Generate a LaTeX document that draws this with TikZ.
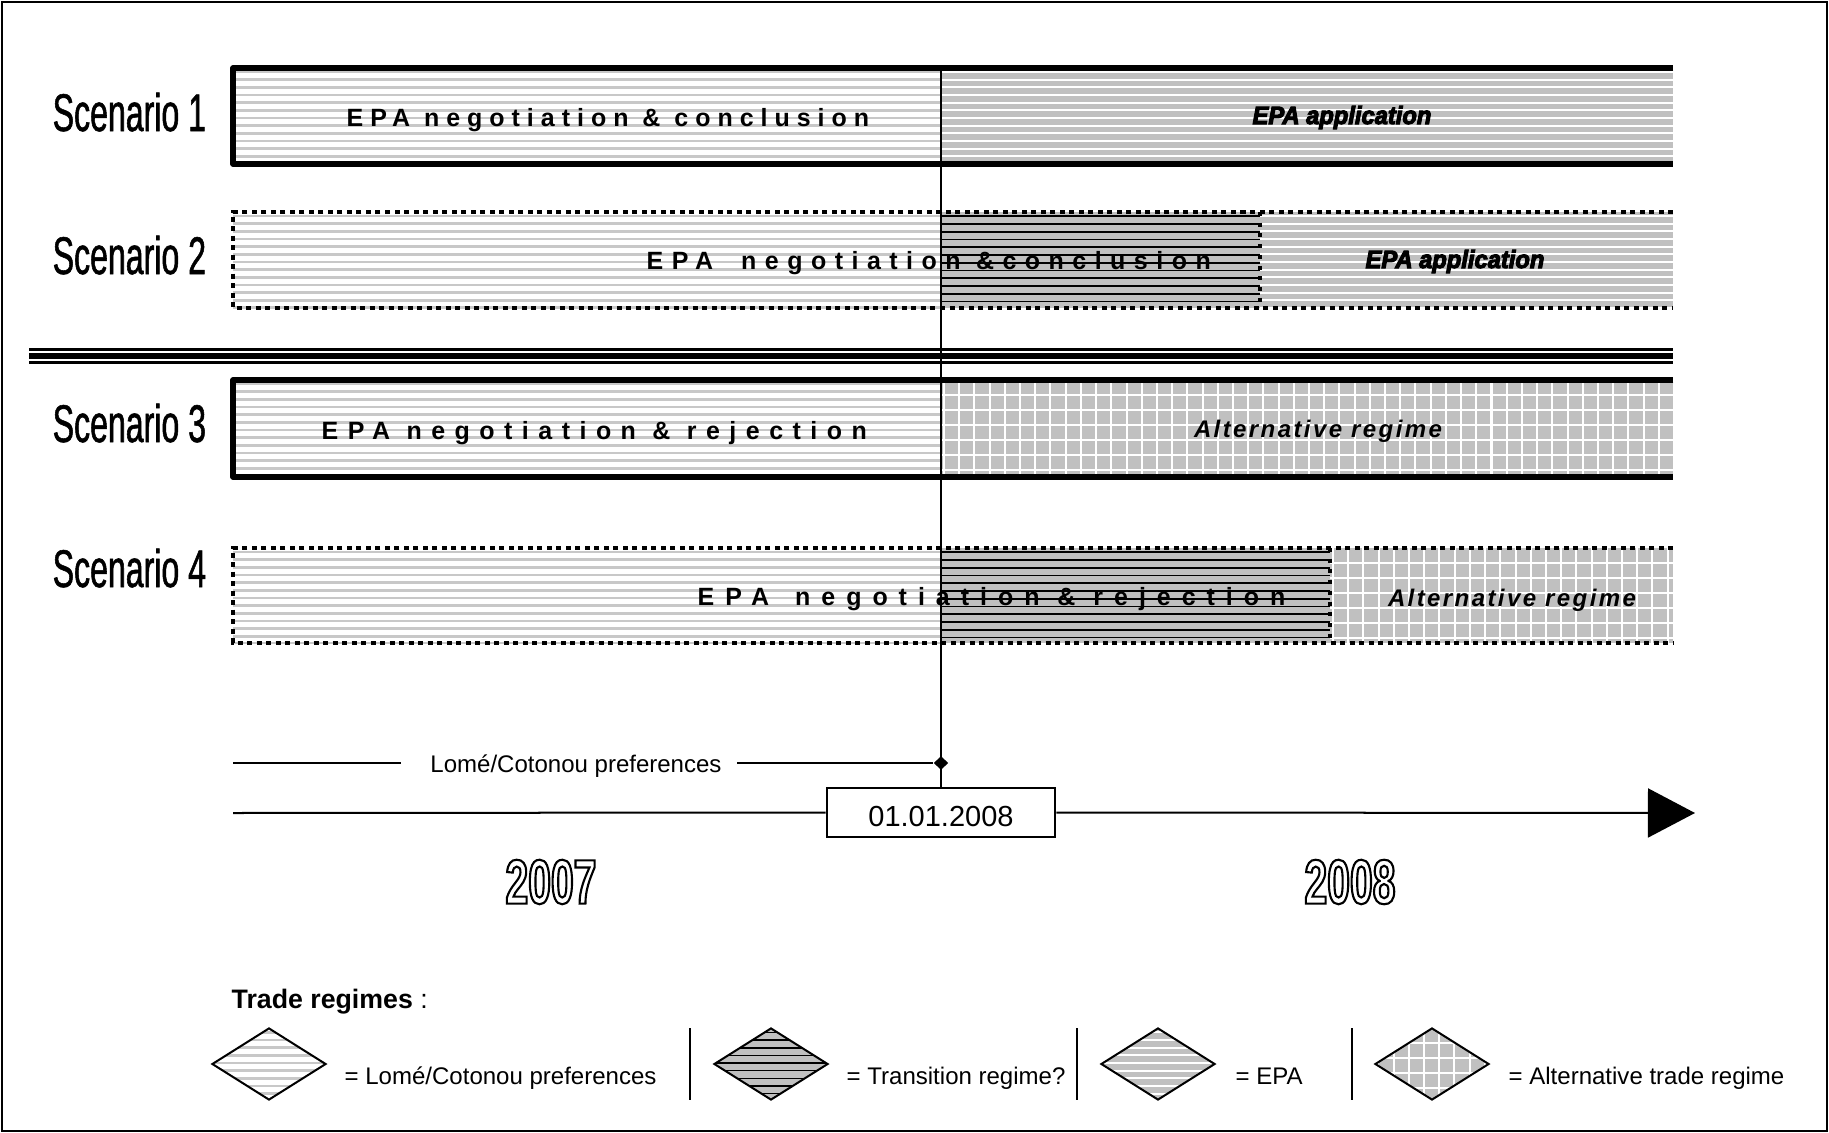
\documentclass[tikz,border=0pt]{standalone}
\usepackage{fontspec}
\setmainfont{Liberation Sans}
\newfontfamily\scenfont[FakeStretch=0.605]{Liberation Sans}
\newfontfamily\yearfont[FakeStretch=0.65]{Liberation Sans}
\newfontfamily\spA[LetterSpace=28]{Liberation Sans}
\newfontfamily\spB[LetterSpace=34]{Liberation Sans}
\newfontfamily\spC[LetterSpace=38]{Liberation Sans}
\newfontfamily\spD[LetterSpace=44]{Liberation Sans}
\newfontfamily\epafont[FakeStretch=0.95]{Liberation Sans}
\newfontfamily\altfont[LetterSpace=10]{Liberation Sans}
\usetikzlibrary{shapes.geometric,arrows.meta,calc}
\definecolor{stripeL}{RGB}{200,200,200}
\definecolor{midgray}{RGB}{192,192,192}
\newcommand\hstripes[2]{%
  \fill[#1] (path picture bounding box.south west) rectangle (path picture bounding box.north east);
  \foreach \k in {0,...,14}{\draw[#2] ([yshift=-0.04cm-\k*0.0765cm]path picture bounding box.north west) -- ([yshift=-0.04cm-\k*0.0765cm]path picture bounding box.north east);}}
\newcommand\gridfill{%
  \fill[midgray] (path picture bounding box.south west) rectangle (path picture bounding box.north east);
  \foreach \k in {0,...,50}{\draw[white,line width=0.02cm] ([xshift=0.03cm+\k*0.152cm]path picture bounding box.south west) -- ([xshift=0.03cm+\k*0.152cm]path picture bounding box.north west);}
  \foreach \k in {0,...,7}{\draw[white,line width=0.02cm] ([yshift=-0.15cm-\k*0.15cm]path picture bounding box.north west) -- ([yshift=-0.15cm-\k*0.15cm]path picture bounding box.north east);}}
\newcommand\outl[1]{\special{pdf:literal direct 1 Tr 0.6 w}#1\special{pdf:literal direct 0 Tr}}
\newcommand\heavy[2]{\special{pdf:literal direct 2 Tr #1 w}#2\special{pdf:literal direct 0 Tr}}
\newcommand\spsize{\bfseries\fontsize{7.1pt}{8pt}\selectfont}
\tikzset{
  reg/.style={rectangle, inner sep=0, outer sep=0, draw=none, anchor=north west},
  lightpat/.style={path picture={\hstripes{white}{stripeL,line width=0.028cm}}},
  epapat/.style={path picture={\hstripes{midgray}{white,line width=0.02cm}}},
  transpat/.style={path picture={\fill[midgray] (path picture bounding box.south west) rectangle (path picture bounding box.north east);}},
  translegpat/.style={path picture={\hstripes{midgray}{black,line width=0.016cm}}},
  altpat/.style={path picture={\gridfill}},
  solidb/.style={line width=0.055cm, line join=round},
  dotb/.style={line width=0.045cm, dash pattern=on 0.05cm off 0.045cm},
  dotv/.style={line width=0.04cm, dash pattern=on 0.04cm off 0.067cm},
  lbl/.style={anchor=base west, inner sep=0},
  scen/.style={anchor=base west, inner sep=0, font=\scenfont\fontsize{15.08pt}{17pt}\selectfont},
  epatxt/.style={anchor=base, inner sep=0, font=\epafont\bfseries\itshape\fontsize{7.1pt}{8pt}\selectfont},
  alttxt/.style={anchor=base, inner sep=0, font=\altfont\bfseries\itshape\fontsize{6.83pt}{8pt}\selectfont},
  lgtxt/.style={anchor=base west, inner sep=0, font=\fontsize{6.83pt}{8pt}\selectfont},
  datebox/.style={draw, line width=0.02cm, fill=white, minimum width=2.285cm, minimum height=0.49cm, inner sep=0, text height=0.28cm, text depth=0cm, font=\fontsize{8.25pt}{9pt}\selectfont},
  legdia/.style={diamond, draw, line width=0.02cm, inner sep=0, minimum width=1.14cm, minimum height=0.72cm},
  yeartxt/.style={inner sep=0, font=\yearfont\bfseries\fontsize{17.9pt}{20pt}\selectfont},
  thinline/.style={line width=0.02cm},
}
\begin{document}
\begin{tikzpicture}[x=0.01cm, y=-0.01cm]
\useasboundingbox (0,0) rectangle (1829,1133);
\fill[white] (0,0) rectangle (1829,1133);
% regions
\node[reg, lightpat, minimum width=7.08cm, minimum height=0.96cm] (s1a) at (233,68) {};
\node[reg, epapat, minimum width=7.32cm, minimum height=0.96cm] (s1b) at (941,68) {};
\node[reg, lightpat, minimum width=7.08cm, minimum height=0.96cm] (s2a) at (233,212) {};
\node[reg, transpat, minimum width=3.19cm, minimum height=0.96cm] (s2t) at (941,212) {};
\node[reg, epapat, minimum width=4.13cm, minimum height=0.96cm] (s2b) at (1260,212) {};
\node[reg, lightpat, minimum width=7.08cm, minimum height=0.97cm] (s3a) at (233,380) {};
\node[reg, altpat, minimum width=7.32cm, minimum height=0.97cm] (s3b) at (941,380) {};
\node[reg, lightpat, minimum width=7.08cm, minimum height=0.95cm] (s4a) at (233,548) {};
\node[reg, transpat, minimum width=3.89cm, minimum height=0.95cm] (s4t) at (941,548) {};
\node[reg, altpat, minimum width=3.43cm, minimum height=0.95cm] (s4b) at (1330,548) {};
% years (drawn early)
\node[yeartxt] (y7) at (551,882) {\outl{2007}};
\node[yeartxt] (y8) at (1350,882) {\outl{2008}};
% texts in bars
\node[lbl, font=\spA\spsize] (t1) at (346,126) {EPA negotiation \& conclusion};
\node[lbl, font=\spB\spsize] (t2) at (646,269) {EPA\hspace{0.28cm}negotiation \&conclusion};
\node[lbl, font=\spC\spsize] (t3) at (321,439) {EPA negotiation \& rejection};
\node[lbl, font=\spD\spsize] (t4) at (697,605) {EPA\hspace{0.26cm}negotiation \& rejection};
\node[epatxt] (e1) at (1342,124) {\heavy{0.3}{EPA application}};
\node[epatxt] (e2) at (1455,268) {\heavy{0.3}{EPA application}};
\node[alttxt] (a3) at (1318,437) {Alternative regime};
\node[alttxt] (a4) at (1512,606) {Alternative regime};
% transition stripes over text
\foreach \n in {s2t,s4t}{\foreach \k in {0,...,11}{\draw[black,line width=0.016cm] ([yshift=-0.042cm-\k*0.0775cm]\n.north west) -- ([yshift=-0.042cm-\k*0.0775cm]\n.north east);}}
% borders
\draw[solidb] (s1b.north east) -- (s1a.north west) -- (s1a.south west) -- (s1b.south east);
\draw[dotb] (s2b.north east) -- (s2a.north west) -- (s2a.south west) -- (s2b.south east);
\draw[dotv] (s2t.north east) -- (s2t.south east);
\draw[solidb] (s3b.north east) -- (s3a.north west) -- (s3a.south west) -- (s3b.south east);
\draw[dotb] (s4b.north east) -- (s4a.north west) -- (s4a.south west) -- (s4b.south east);
\draw[dotv] (s4t.north east) -- (s4t.south east);
% separator
\draw[line width=0.024cm] (29,349.5) -- (1673,349.5);
\draw[line width=0.06cm] (29,356.3) -- (1673,356.3);
\draw[line width=0.03cm] (29,362.5) -- (1673,362.5);
% scenario labels
\node[scen] (sc1) at (52,131) {\heavy{0.15}{Scenario 1}};
\node[scen] (sc2) at (52,274) {\heavy{0.15}{Scenario 2}};
\node[scen] (sc3) at (52,442) {\heavy{0.15}{Scenario 3}};
\node[scen] (sc4) at (52,587) {\heavy{0.15}{Scenario 4}};
% timeline
\node[datebox] (date) at (941,812.5) {01.01.2008};
\coordinate (vtop) at (941,68);
\draw[line width=0.022cm] (vtop) -- (date.north);
\node[diamond, fill=black, inner sep=0, minimum width=0.15cm, minimum height=0.14cm] (mk) at (941,763) {};
\coordinate (lomeL) at (233,763);
\node[anchor=base, inner sep=0, font=\fontsize{6.83pt}{8pt}\selectfont] (lome) at (576,772) {Lomé/Cotonou preferences};
\draw[thinline] (lomeL) -- ($(lome.west |- lomeL)+(-29,0)$);
\draw[thinline] ($(lome.east |- lomeL)+(15,0)$) -- (mk.west);
\coordinate (axL) at (233,813);
\coordinate (axR) at (1695,813);
\draw[thinline] (axL) -- (date.west);
\draw[thinline, -{Triangle[length=0.47cm,width=0.49cm]}] (date.east) -- (axR);
% legend
\node[anchor=base west, inner sep=0, font=\fontsize{7.6pt}{9pt}\selectfont] (trh) at (231,1008) {\textbf{Trade regimes} :};
\node[legdia, lightpat] (d1) at (269,1064) {};
\node[legdia, translegpat] (d2) at (771,1064) {};
\node[legdia, epapat] (d3) at (1158,1064) {};
\node[legdia, altpat] (d4) at (1432,1064) {};
\node[lgtxt] (l1) at (344,1084) {= Lomé/Cotonou preferences};
\node[lgtxt] (l2) at (846,1084) {= Transition regime?};
\node[lgtxt] (l3) at (1235,1084) {= EPA};
\node[lgtxt] (l4) at (1508,1084) {= Alternative trade regime};
\draw[thinline] (690,1028) -- (690,1100);
\draw[thinline] (1077,1028) -- (1077,1100);
\draw[thinline] (1352,1028) -- (1352,1100);
% frame
\draw[line width=0.025cm] (2,2) rectangle (1827,1131);
\end{tikzpicture}
\end{document}
